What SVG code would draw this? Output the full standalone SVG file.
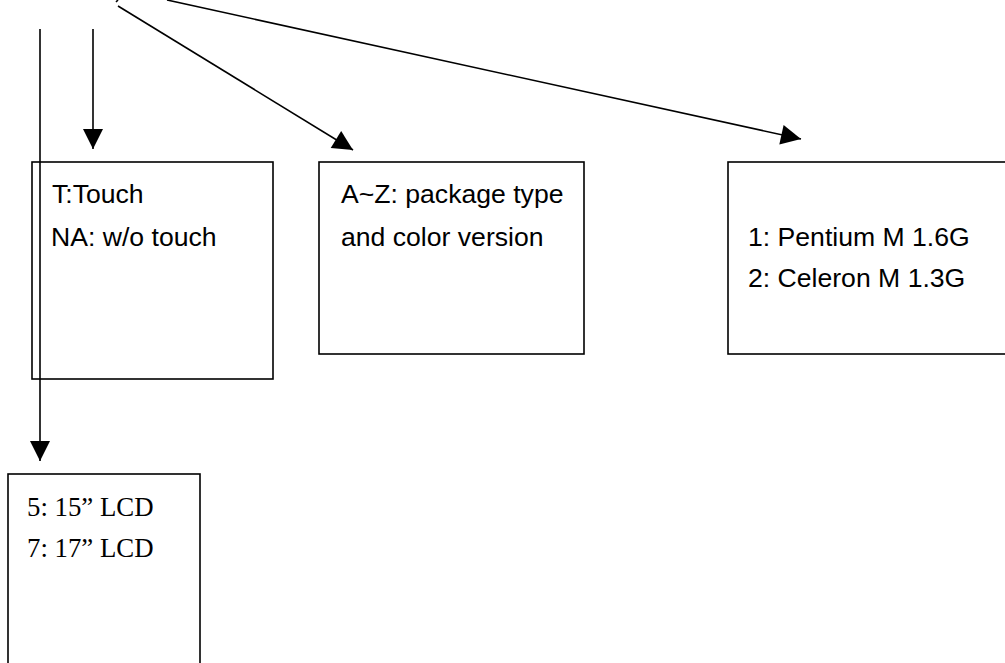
<svg xmlns="http://www.w3.org/2000/svg" width="1005" height="663" viewBox="0 0 1005 663">
<style>
.box{fill:none;stroke:#000;stroke-width:1.6}
.ln{fill:none;stroke:#000;stroke-width:1.6}
.ar{marker-end:url(#ah)}
.sans{font-family:"Liberation Sans",Arial,sans-serif;font-size:26.6px;fill:#000}
.serif{font-family:"Liberation Serif","Times New Roman",serif;font-size:26.8px;fill:#000}
</style>
<defs>
<marker id="ah" markerUnits="userSpaceOnUse" markerWidth="21" markerHeight="21" refX="20" refY="10" orient="auto" viewBox="0 0 21 21" overflow="visible">
<path d="M0,0 L20,10 L0,20 z" fill="#000"/>
</marker>
</defs>
<rect width="1005" height="663" fill="#fff"/>
<g id="connectors">
<line class="ln ar" x1="40" y1="29" x2="40" y2="461"/>
<line class="ln ar" x1="93" y1="29" x2="93" y2="149"/>
<line class="ln ar" x1="118" y1="6" x2="353" y2="150"/>
<line class="ln ar" x1="167" y1="0" x2="801" y2="139"/>
<line class="ln" x1="118" y1="0" x2="116" y2="2"/>
</g>
<g id="node-touch">
<rect class="box" x="32" y="162" width="241" height="217"/>
<text class="sans" x="52" y="203">T:Touch</text>
<text class="sans" x="51" y="246">NA: w/o touch</text>
</g>
<g id="node-package">
<rect class="box" x="319" y="162" width="265" height="192"/>
<text class="sans" x="341" y="203">A~Z: package type</text>
<text class="sans" x="341" y="246">and color version</text>
</g>
<g id="node-cpu">
<rect class="box" x="728" y="162" width="290" height="192"/>
<text class="sans" x="748" y="246">1: Pentium M 1.6G</text>
<text class="sans" x="748" y="287">2: Celeron M 1.3G</text>
</g>
<g id="node-lcd">
<rect class="box" x="8" y="474" width="192" height="200"/>
<text class="serif" x="27" y="516">5: 15” LCD</text>
<text class="serif" x="27" y="557">7: 17” LCD</text>
</g>
</svg>
